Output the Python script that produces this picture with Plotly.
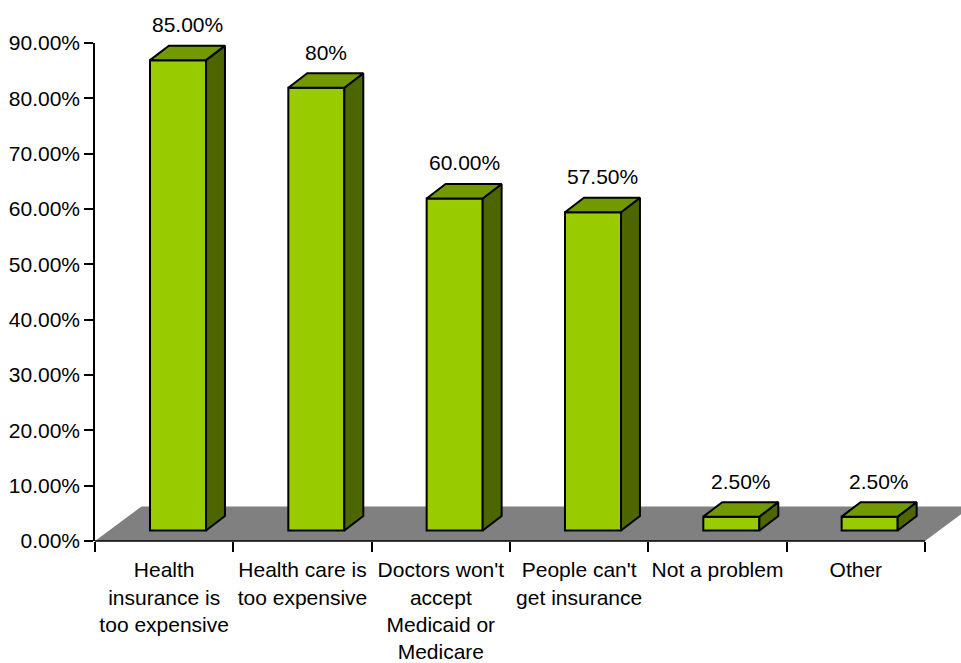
import plotly.graph_objects as go

categories = [
    "Health<br>insurance is<br>too expensive",
    "Health care is<br>too expensive",
    "Doctors won't<br>accept<br>Medicaid or<br>Medicare",
    "People can't<br>get insurance",
    "Not a problem",
    "Other",
]
values = [85.0, 80.0, 60.0, 57.5, 2.5, 2.5]
value_labels = ["85.00%", "80%", "60.00%", "57.50%", "2.50%", "2.50%"]
y_ticks = [0, 10, 20, 30, 40, 50, 60, 70, 80, 90]

# 3D pseudo-depth geometry (in axis units)
SX, SY = 0.10, 1.9       # front-face offset from category centre / baseline
DX, DY = 0.137, 2.62     # bar depth
FDX, FDY = 0.336, 6.24   # floor depth
W = 0.405                # bar width

FRONT = "#99CC00"
TOP = "#739900"
SIDE = "#4D6600"
FLOOR = "#808080"
FONT = "Liberation Sans, Arial, sans-serif"

n = len(categories)
idx = list(range(n))

fig = go.Figure()

fig.add_trace(go.Bar(
    x=[i + SX for i in idx], y=values, base=SY, width=W,
    marker=dict(color=FRONT, line=dict(color="black", width=2)),
    hoverinfo="skip", showlegend=False,
))

for i, v in zip(idx, values):
    xl = i + SX - W / 2
    xr = i + SX + W / 2
    yb = SY
    yt = SY + v
    # side face
    fig.add_trace(go.Scatter(
        x=[xr, xr + DX, xr + DX, xr, xr],
        y=[yb, yb + DY, yt + DY, yt, yb],
        mode="lines", fill="toself", fillcolor=SIDE,
        line=dict(color="black", width=2), hoverinfo="skip", showlegend=False,
    ))
    # top face
    fig.add_trace(go.Scatter(
        x=[xl, xr, xr + DX, xl + DX, xl],
        y=[yt, yt, yt + DY, yt + DY, yt],
        mode="lines", fill="toself", fillcolor=TOP,
        line=dict(color="black", width=2), hoverinfo="skip", showlegend=False,
    ))

# floor
fig.add_shape(
    type="path", xref="x", yref="y", layer="below",
    path=f"M {-0.5},{0} L {n - 0.5},{0} L {n - 0.5 + FDX},{FDY} L {-0.5 + FDX},{FDY} Z",
    fillcolor=FLOOR, line=dict(width=0),
)
# x axis line (only across the categories)
fig.add_shape(
    type="line", xref="x", yref="paper", x0=-0.5, x1=n - 0.5, y0=0, y1=0,
    line=dict(color="black", width=1.5), layer="above",
)

for i, v, t in zip(idx, values, value_labels):
    fig.add_annotation(
        x=i + SX + DX / 2, y=v + SY + DY, text=t, showarrow=False,
        yshift=21, yanchor="middle", xanchor="center",
        font=dict(family=FONT, size=21, color="black"),
    )

L, R, T, B = 95, 0, 43, 122
plot_w = 961 - L - R
cat_w = (925 - 95) / n
xmax = -0.5 + plot_w / cat_w

fig.update_layout(
    width=961, height=663,
    margin=dict(l=L, r=R, t=T, b=B, pad=0),
    paper_bgcolor="white", plot_bgcolor="white",
    font=dict(family=FONT, size=21, color="black"),
    showlegend=False,
    xaxis=dict(
        range=[-0.5, xmax], tickmode="array", tickvals=idx, ticktext=categories,
        showline=False, showgrid=False, zeroline=False,
        ticks="outside", ticklen=10, tickcolor="rgba(0,0,0,0)",
        minor=dict(tickmode="array", tickvals=[i - 0.5 for i in range(n + 1)],
                   ticks="outside", ticklen=10, tickcolor="black", tickwidth=1.5,
                   showgrid=False),
        tickfont=dict(family=FONT, size=21, color="black"),
        fixedrange=True,
    ),
    yaxis=dict(
        range=[0, 90], tickmode="array", tickvals=y_ticks,
        ticktext=[f"{t:.2f}%" for t in y_ticks],
        showline=True, linecolor="black", linewidth=1.5,
        ticks="outside", ticklen=9, tickcolor="black", tickwidth=1.5,
        showgrid=False, zeroline=False,
        tickfont=dict(family=FONT, size=21, color="black"),
        fixedrange=True,
    ),
)

fig.write_html("out.html")
